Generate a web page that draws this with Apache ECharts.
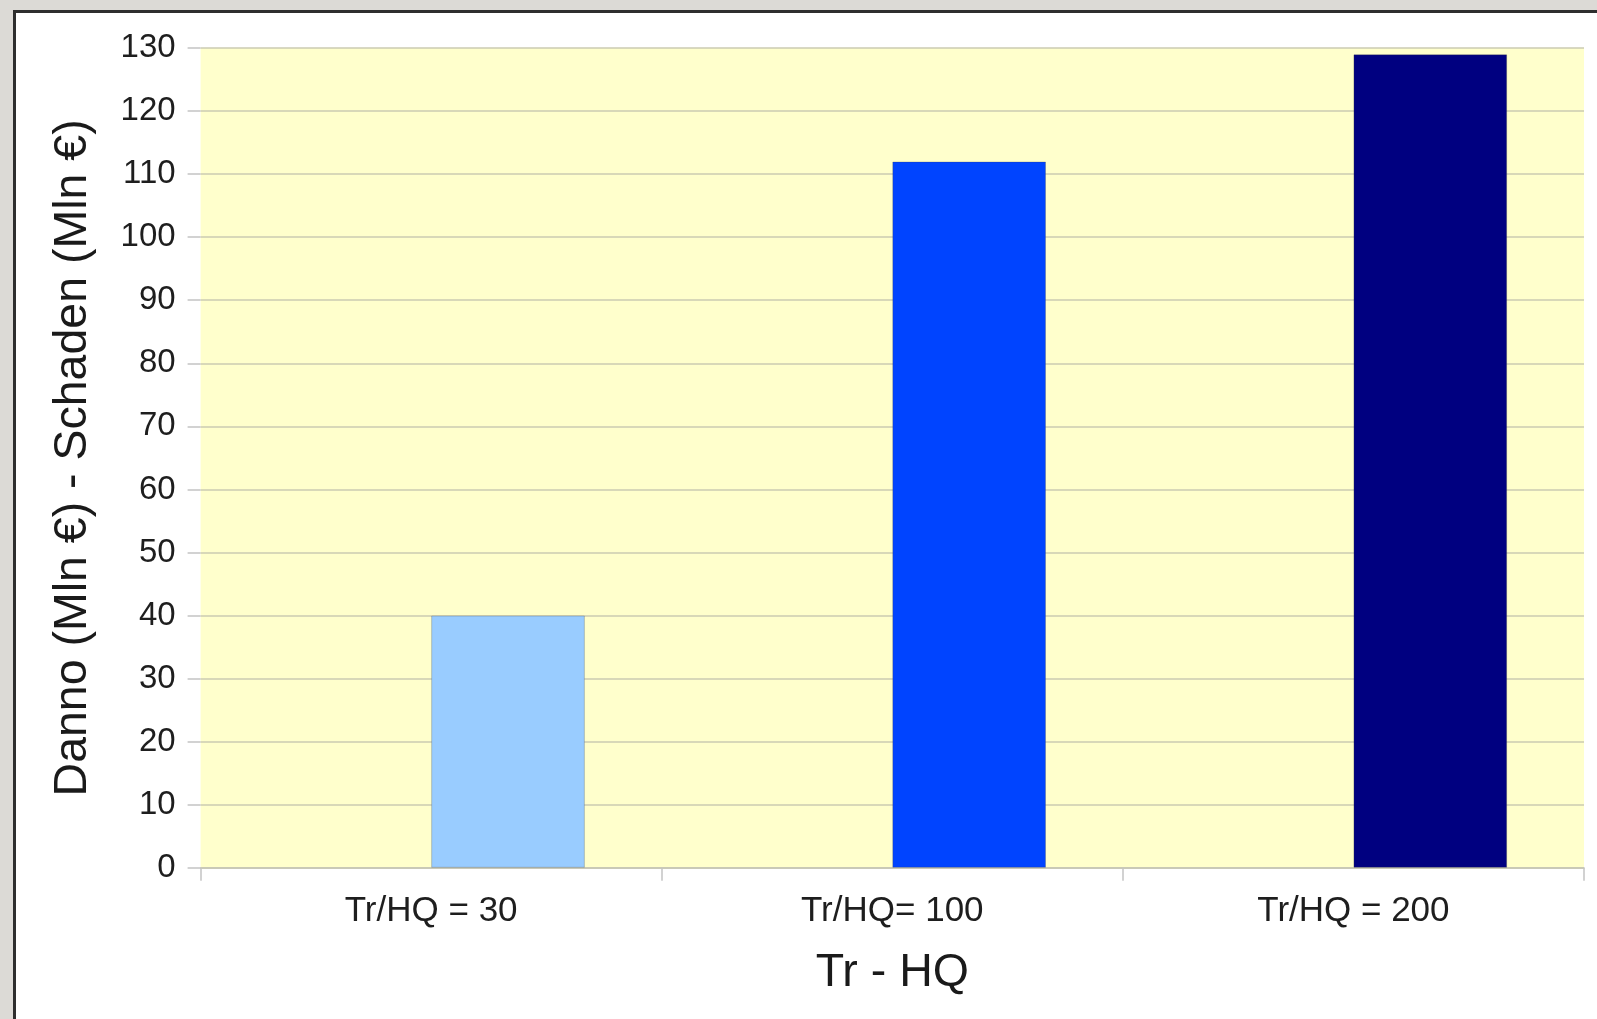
<!DOCTYPE html>
<html>
<head>
<meta charset="utf-8">
<title>Danno - Schaden</title>
<script src="https://cdn.jsdelivr.net/npm/echarts@6/dist/echarts.min.js"></script>
<style>
  html, body { margin: 0; padding: 0; background: #dcdad6; }
  #frame {
    position: absolute; left: 13px; top: 10px; width: 1600px; height: 1020px;
    background: #ffffff; border: 3px solid #2e2e2e; box-sizing: border-box;
  }
  #chart { position: absolute; left: 0; top: 0; width: 1597px; height: 1019px; }
</style>
</head>
<body>
<div id="frame"></div>
<div id="chart"></div>
<script>
// Return period classes on the x axis
const categories = ['Tr/HQ = 30', 'Tr/HQ= 100', 'Tr/HQ = 200'];
// Damage in million euro for each return period
const damage = [40, 112, 129];
// Empty companion series that occupies the left half of each group
const placeholder = ['-', '-', '-'];
const barColors = ['#99ccff', '#0044ff', '#000080'];
const yTicks = { min: 0, max: 130, step: 10 };

const font = '"Liberation Sans", Arial, sans-serif';
const chart = echarts.init(document.getElementById('chart'), null, { renderer: 'canvas' });

chart.setOption({
  backgroundColor: 'transparent',
  animation: false,
  grid: {
    left: 200.6, right: 13, top: 48, bottom: 151.2,
    show: true, backgroundColor: '#ffffcc', borderWidth: 0
  },
  xAxis: {
    type: 'category',
    data: categories,
    name: 'Tr - HQ',
    nameLocation: 'middle',
    nameGap: 82,
    nameTextStyle: { fontFamily: font, fontSize: 46.5, color: '#1a1a1a' },
    axisLine: { show: true, lineStyle: { color: '#c4c4b4', width: 1.5 } },
    axisTick: { show: true, length: 13, lineStyle: { color: '#c4c4c4', width: 1.5 } },
    axisLabel: { fontFamily: font, fontSize: 35, color: '#1e1e1e', margin: 26 },
    splitLine: { show: false }
  },
  yAxis: {
    type: 'value',
    min: yTicks.min, max: yTicks.max, interval: yTicks.step,
    name: 'Danno (Mln €) - Schaden (Mln €)',
    nameLocation: 'middle',
    nameGap: 104,
    nameTextStyle: { fontFamily: font, fontSize: 46.5, color: '#1a1a1a' },
    axisLine: { show: false },
    axisTick: { show: true, length: 13, lineStyle: { color: '#c4c4c4', width: 1.5 } },
    axisLabel: { fontFamily: font, fontSize: 33, color: '#1e1e1e', margin: 25 },
    splitLine: { show: true, lineStyle: { color: '#cbcbb2', width: 1.5 } }
  },
  series: [
    {
      type: 'bar',
      data: placeholder,
      barGap: '0%',
      barCategoryGap: '33.333%'
    },
    {
      type: 'bar',
      data: damage.map((v, i) => ({
        value: v,
        itemStyle: { color: barColors[i], borderColor: 'rgba(60,60,60,0.25)', borderWidth: 1 }
      })),
      barGap: '0%',
      barCategoryGap: '33.333%'
    }
  ]
});
</script>
</body>
</html>
